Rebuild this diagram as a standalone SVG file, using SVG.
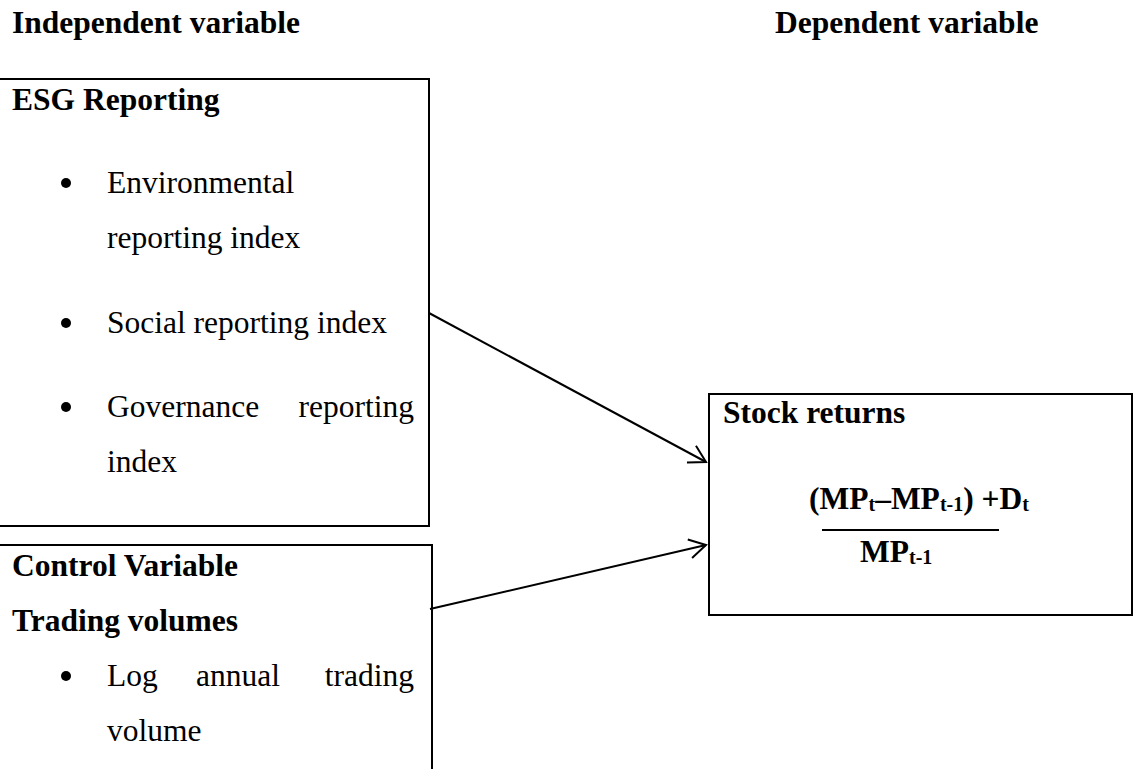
<svg xmlns="http://www.w3.org/2000/svg" width="1136" height="769" viewBox="0 0 1136 769">
  <style>
    text { font-family: "Liberation Serif", "Times New Roman", serif; font-size: 31.5px; fill: #000; }
    .b { font-weight: bold; }
    .sub { font-size: 20px; }
    .box { fill: #fff; stroke: #000; stroke-width: 2; }
    .edge { fill: none; stroke: #000; stroke-width: 2; }
  </style>
  <defs>
    <marker id="open-arrow" markerWidth="22" markerHeight="24" refX="18" refY="11" orient="auto" markerUnits="userSpaceOnUse">
      <path d="M1.5,1.5 L18,11 L1.5,20.5" fill="none" stroke="#000" stroke-width="2"/>
    </marker>
  </defs>
  <rect width="1136" height="769" fill="#fff"/>

  <!-- column headings -->
  <g id="headings">
    <text class="b" x="12" y="33">Independent variable</text>
    <text class="b" x="775" y="33">Dependent variable</text>
  </g>

  <!-- ESG reporting block -->
  <g id="esg-reporting">
    <rect class="box" x="-3" y="79" width="432" height="447"/>
    <text class="b" x="12" y="110">ESG Reporting</text>
    <circle cx="66" cy="183" r="5"/>
    <text x="107" y="193">Environmental</text>
    <text x="107" y="248">reporting index</text>
    <circle cx="66" cy="323" r="5"/>
    <text x="107" y="333">Social reporting index</text>
    <circle cx="66" cy="407" r="5"/>
    <text x="107" y="417">Governance</text>
    <text x="414" y="417" text-anchor="end">reporting</text>
    <text x="107" y="472">index</text>
  </g>

  <!-- control variable block -->
  <g id="control-variable">
    <rect class="box" x="-3" y="545" width="435" height="240"/>
    <text class="b" x="12" y="576">Control Variable</text>
    <text class="b" x="12" y="631">Trading volumes</text>
    <circle cx="66" cy="676" r="5"/>
    <text x="107" y="686">Log</text>
    <text x="196" y="686">annual</text>
    <text x="414" y="686" text-anchor="end">trading</text>
    <text x="107" y="741">volume</text>
  </g>

  <!-- stock returns block -->
  <g id="stock-returns">
    <rect class="box" x="709" y="394" width="423" height="221"/>
    <text class="b" x="723" y="423">Stock returns</text>
    <text class="b" x="809" y="509">(MP<tspan class="sub" dy="2">t</tspan><tspan dy="-2">–MP</tspan><tspan class="sub" dy="2">t-1</tspan><tspan dy="-2">) +D</tspan><tspan class="sub" dy="2">t</tspan></text>
    <line x1="822" y1="530" x2="999" y2="530" stroke="#000" stroke-width="2"/>
    <text class="b" x="860" y="562">MP<tspan class="sub" dy="2">t-1</tspan></text>
  </g>

  <!-- connectors -->
  <g id="connectors">
    <line class="edge" x1="429" y1="313" x2="706" y2="462" marker-end="url(#open-arrow)"/>
    <line class="edge" x1="430" y1="609" x2="706" y2="545" marker-end="url(#open-arrow)"/>
  </g>
</svg>
